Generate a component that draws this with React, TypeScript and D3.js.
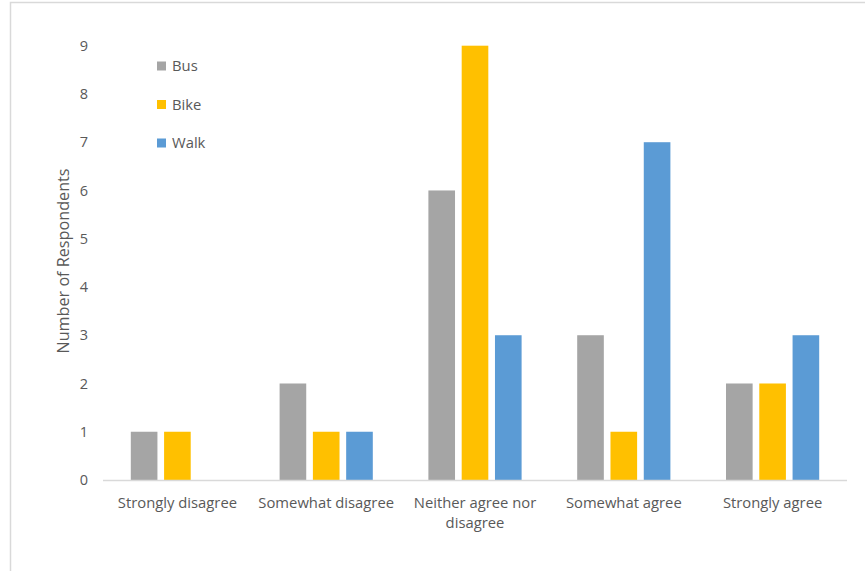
import React from "react";
import * as d3 from "d3";

const categories = [
  "Strongly disagree",
  "Somewhat disagree",
  "Neither agree nor disagree",
  "Somewhat agree",
  "Strongly agree",
];
const seriesNames = ["Bus", "Bike", "Walk"];
const busValues = [1, 2, 6, 3, 2];
const bikeValues = [1, 1, 9, 1, 2];
const walkValues = [0, 1, 3, 7, 3];
const yTicks = [0, 1, 2, 3, 4, 5, 6, 7, 8, 9];
const colors = ["#A5A5A5", "#FFC000", "#5B9BD5"];
const yTitle = "Number of Respondents";

const W = 865;
const H = 571;
const plot = { left: 103, right: 847, top: 45.7, bottom: 480 };
const FONT = "'Open Sans', 'Noto Sans', sans-serif";
const TEXT = "#595959";

function wrap(label: string): string[] {
  if (label.length <= 20) return [label];
  const cut = label.lastIndexOf(" ", 18);
  return [label.slice(0, cut), label.slice(cut + 1)];
}

export default function App() {
  const allValues = [busValues, bikeValues, walkValues];
  const x = d3.scaleBand<string>().domain(categories).range([plot.left, plot.right]).paddingInner(0).paddingOuter(0);
  const y = d3.scaleLinear().domain([0, 9]).range([plot.bottom, plot.top]);
  const groupWidth = 93.2;
  const xs = d3.scaleBand<string>().domain(seriesNames).range([0, groupWidth]).paddingInner(0.2).paddingOuter(0);
  const groupOffset = (x.bandwidth() - groupWidth) / 2;

  return (
    <svg width={W} height={H} style={{ position: "absolute", left: 0, top: 0, background: "#fff" }} fontFamily={FONT}>
      <rect x={10.5} y={2.5} width={900} height={600} fill="#fff" stroke="#D9D9D9" strokeWidth={1.5} />
      {/* y tick labels */}
      {yTicks.map((t) => (
        <text key={t} x={88} y={y(t)} dy="0.35em" textAnchor="end" fontSize={14.5} fill={TEXT}>
          {t}
        </text>
      ))}
      {/* y axis title */}
      <text
        transform={`translate(63,261) rotate(-90)`}
        textAnchor="middle"
        dy="0.35em"
        fontSize={16.2}
        fill={TEXT}
      >
        {yTitle}
      </text>
      {/* bars */}
      {categories.map((c, ci) => (
        <g key={c} transform={`translate(${(x(c) ?? 0) + groupOffset},0)`}>
          {seriesNames.map((s, si) => {
            const v = allValues[si][ci];
            if (!v) return null;
            return (
              <rect
                key={s}
                x={xs(s)}
                y={y(v)}
                width={xs.bandwidth()}
                height={y(0) - y(v)}
                fill={colors[si]}
              />
            );
          })}
        </g>
      ))}
      {/* x axis line */}
      <line x1={plot.left} x2={plot.right} y1={y(0) + 0.5} y2={y(0) + 0.5} stroke="#D9D9D9" strokeWidth={1.5} />
      {/* category labels */}
      {categories.map((c) => (
        <text key={c} x={(x(c) ?? 0) + x.bandwidth() / 2} y={503} textAnchor="middle" fontSize={14.8} fill={TEXT}>
          {wrap(c).map((line, li) => (
            <tspan key={li} x={(x(c) ?? 0) + x.bandwidth() / 2} dy={li === 0 ? "0.35em" : 20}>
              {line}
            </tspan>
          ))}
        </text>
      ))}
      {/* legend */}
      {seriesNames.map((s, si) => (
        <g key={s} transform={`translate(157,${66 + si * 38.5})`}>
          <rect x={0} y={-4.5} width={9} height={9} fill={colors[si]} />
          <text x={15} y={0} dy="0.35em" fontSize={14.8} fill={TEXT}>
            {s}
          </text>
        </g>
      ))}
    </svg>
  );
}
